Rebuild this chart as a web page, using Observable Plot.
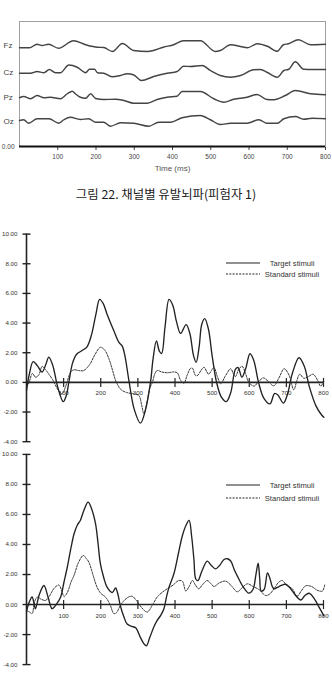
<!DOCTYPE html>
<html><head><meta charset="utf-8">
<script src="https://cdn.jsdelivr.net/npm/d3@7"></script>
<script src="https://cdn.jsdelivr.net/npm/@observablehq/plot@0.6"></script>
<style>
html,body{margin:0;padding:0;background:#fff;overflow:hidden;}
#root{position:relative;width:332px;height:680px;}
.pane{position:absolute;left:0;}
#caption{position:absolute;left:0;width:332px;top:185px;text-align:center;font-family:"Noto Sans CJK KR",sans-serif;font-size:12.4px;font-weight:400;color:#1a1a1a;line-height:19px;}
</style></head><body><div id="root">
<div id="c1" class="pane" style="top:0px"></div>
<div id="caption"></div>
<div id="c2" class="pane" style="top:225px"></div>
<div id="c3" class="pane" style="top:448px"></div>
</div>
<script>
// ---------- data ----------
const timeTicks = [100, 200, 300, 400, 500, 600, 700, 800];
const ampTicks = [-4, -2, 0, 2, 4, 6, 8, 10];
const channels = ["Fz", "Cz", "Pz", "Oz"];
const channelLevels = [4.06, 2.96, 1.96, 1.0];
const captionText = "그림 22. 채널별 유발뇌파(피험자 1)";
const axisTitle = "Time (ms)";
const legendLabels = ["Target stimuli", "Standard stimuli"];

// top panel: evoked traces per channel [ms, level]
const fz = [[0,3.95],[26,3.95],[46,4.09],[59,4.04],[76,4.09],[102,3.93],[141,4.23],[173,4.07],[204,3.97],[220,3.96],[243,3.80],[269,4.12],[298,3.84],[335,3.80],[350,3.84],[376,3.97],[403,4.07],[429,4.23],[473,4.23],[512,3.80],[525,3.84],[552,4.07],[578,4.00],[596,3.95],[622,4.11],[648,4.01],[674,3.81],[690,4.07],[703,4.11],[729,4.27],[761,4.07],[800,4.09]];
const cz = [[0,2.93],[29,2.93],[46,3.00],[64,2.95],[78,3.08],[94,2.95],[107,2.95],[129,3.26],[151,3.17],[173,2.95],[183,3.09],[196,3.09],[204,2.95],[220,2.93],[242,2.79],[264,2.84],[282,2.91],[299,2.86],[319,2.64],[351,2.80],[386,2.93],[412,3.00],[429,3.21],[447,3.20],[478,3.24],[499,3.04],[525,2.84],[552,2.77],[578,2.84],[612,3.07],[630,3.08],[647,2.97],[674,2.77],[691,3.04],[704,3.09],[721,3.39],[743,3.09],[769,3.08],[800,3.08]];
const pz = [[0,1.95],[11,2.00],[29,1.91],[46,2.04],[64,1.95],[81,1.97],[107,1.91],[125,2.11],[138,2.21],[146,2.11],[159,1.97],[173,1.93],[186,2.11],[199,1.92],[220,1.88],[251,1.89],[273,1.84],[299,1.73],[334,1.73],[360,1.88],[386,1.97],[412,2.01],[425,2.20],[473,2.20],[508,1.91],[534,1.77],[560,1.89],[595,1.97],[621,2.08],[647,1.88],[665,1.87],[695,2.04],[721,2.24],[761,2.11],[800,2.07]];
const oz = [[0,1.04],[11,1.07],[24,0.93],[46,1.11],[77,1.11],[103,0.93],[116,1.07],[133,1.17],[159,1.08],[181,1.11],[199,0.97],[220,0.97],[238,0.81],[264,0.95],[299,0.93],[338,0.81],[364,0.97],[395,0.97],[425,1.15],[473,1.24],[499,1.07],[525,0.88],[552,0.93],[595,0.93],[626,1.07],[647,0.93],[674,0.93],[691,1.11],[721,1.20],[743,1.09],[765,1.13],[800,1.11]];

// middle panel [ms, uV]
const target2 = [[0,-0.55],[8,0.6],[18,1.4],[30,1.1],[42,0.7],[52,1.2],[60,1.7],[70,1.2],[85,-0.4],[99,-1.3],[107,-0.9],[114,0],[124,1.3],[135,1.9],[150,2.15],[163,2.4],[175,3.2],[187,4.6],[197,5.6],[207,5.3],[217,4.6],[235,3.5],[249,2.7],[258,2.45],[265,1.8],[276,0.1],[290,-1.8],[307,-2.75],[320,-1.9],[334,0],[341,1.6],[350,2.8],[358,2.1],[364,1.95],[373,3.7],[384,5.6],[394,5.2],[404,4.1],[415,3.3],[430,3.9],[440,3.3],[450,1.8],[457,1.35],[465,2.4],[472,3.9],[480,4.3],[490,3.6],[500,1.8],[512,0],[525,-1.0],[538,-1.3],[550,-0.7],[563,0.9],[570,1.0],[580,0.35],[590,0.9],[602,1.93],[612,1.5],[625,0],[640,-1.1],[656,-1.45],[668,-0.75],[677,-0.85],[692,-1.4],[703,-0.8],[716,0.6],[734,1.66],[748,1.1],[762,-0.3],[780,-1.6],[795,-2.2],[801,-2.35]];
const standard2 = [[0,-0.32],[8,0.1],[16,0.6],[24,0.35],[33,0.5],[42,1.07],[50,0.9],[56,0.7],[70,0.2],[85,-0.5],[96,-0.77],[105,-0.3],[119,0.69],[128,0.85],[140,0.8],[154,0.8],[170,1.2],[185,1.9],[199,2.37],[210,2.2],[222,1.59],[232,0.8],[240,0.13],[250,-0.35],[258,-0.55],[272,-0.7],[289,-0.77],[303,-0.9],[310,-1.5],[316,-2.1],[324,-1.4],[332,-0.4],[339,0],[346,0.6],[352,0.8],[365,0.7],[380,0.65],[395,0.7],[406,0.65],[415,0.15],[424,-0.05],[433,0.5],[442,0.95],[447,0.95],[455,0.47],[460,0.45],[470,0.8],[478,1.02],[486,0.7],[491,0.55],[498,0.8],[505,1.0],[514,0.4],[523,-0.09],[535,0.4],[550,0.92],[557,0.6],[563,0.4],[572,0.9],[581,1.08],[590,0.6],[599,0],[613,-0.25],[625,0.05],[638,0.3],[650,0.1],[666,-0.23],[680,0.3],[694,0.92],[707,0.5],[720,-0.5],[728,0.1],[736,0.55],[747,0.28],[760,0.4],[772,0.55],[785,0.1],[792,-0.25],[801,0.05]];

// bottom panel [ms, uV]
const target3 = [[0,-0.45],[8,0.2],[15,0.5],[20,0.1],[24,-0.28],[35,0.7],[47,1.27],[58,0.5],[69,-0.28],[80,0.0],[92,0.5],[101,1.5],[110,2.5],[120,3.8],[128,4.7],[137,5.3],[145,5.6],[155,6.3],[166,6.82],[175,6.4],[186,5.38],[193,4.0],[199,2.72],[208,1.8],[217,1.16],[231,0.8],[240,1.1],[246,0.7],[253,-0.1],[262,-0.8],[271,-1.3],[283,-1.45],[294,-1.55],[307,-2.2],[316,-2.6],[323,-2.75],[332,-2.2],[343,-1.5],[352,-1.06],[362,-0.7],[370,-0.3],[377,0.5],[384,1.16],[397,2.05],[410,3.5],[420,4.6],[430,5.3],[438,5.6],[445,4.5],[451,3.0],[456,1.7],[462,1.6],[472,2.2],[487,2.89],[498,2.6],[509,2.38],[520,2.6],[532,3.0],[541,3.05],[550,2.9],[560,2.3],[570,1.8],[583,1.2],[599,0.76],[610,1.0],[618,2.0],[624,2.75],[628,1.8],[632,0.9],[640,1.0],[649,2.1],[655,1.8],[662,1.2],[667,1.05],[680,1.2],[698,1.35],[710,1.1],[725,0.6],[739,0.3],[750,0.6],[761,0.75],[775,0.4],[788,-0.17],[801,-0.75]];
const standard3 = [[0,-0.39],[8,-0.5],[15,-0.6],[22,0.2],[29,0.49],[40,0.35],[51,0.27],[60,0.5],[75,1.1],[87,1.3],[94,1.0],[101,0.54],[110,0.8],[120,1.5],[128,1.94],[140,2.8],[153,3.27],[160,3.1],[168,2.82],[180,1.9],[190,1.16],[200,0.75],[213,0.49],[225,0.0],[235,-0.6],[242,-0.55],[252,-0.1],[262,0.25],[275,0.5],[285,0.55],[295,0.3],[310,-0.2],[325,-0.5],[340,0.0],[352,0.5],[365,0.8],[379,1.05],[395,1.3],[410,1.6],[420,1.55],[429,0.9],[438,1.2],[447,1.6],[455,1.3],[464,1.05],[475,1.35],[487,1.6],[498,1.35],[505,1.2],[520,1.45],[536,1.56],[550,1.3],[568,0.85],[580,1.1],[595,1.38],[610,1.2],[626,1.0],[644,0.6],[655,0.7],[668,1.1],[680,1.5],[689,1.6],[700,1.3],[716,1.05],[729,0.55],[740,0.9],[752,1.25],[768,1.2],[783,0.95],[797,0.9],[803,1.3]];

// ---------- drawing ----------
const FONT = "'Liberation Sans', Arial, sans-serif";
const channelSeries = [fz, cz, pz, oz];

const p1 = Plot.plot({
  width: 332, height: 180,
  marginLeft: 19, marginRight: 7, marginTop: 21, marginBottom: 34,
  style: {background: "transparent", fontFamily: FONT, fontSize: "6.5px", color: "#444"},
  x: {domain: [0, 800], ticks: timeTicks, tickSize: 4, tickPadding: 4, label: null},
  y: {domain: [0, 5], axis: null},
  marks: [
    Plot.frame({stroke: "#a0a0a0", strokeWidth: 1}),
    ...channelSeries.map(s => Plot.line(s, {x: d => d[0], y: d => d[1], curve: "monotone-x", stroke: "#444", strokeWidth: 1.4})),
    Plot.ruleY([0], {stroke: "#111", strokeWidth: 2}),
    Plot.text(channels, {x: () => 0, y: (d, i) => channelLevels[i], text: d => d, textAnchor: "start", dx: -16, fontSize: 8, fill: "#444"}),
    Plot.text(["0.00"], {x: () => 0, y: () => 0, text: d => d, textAnchor: "end", dx: -5, fontSize: 6.5, fill: "#444"}),
    Plot.text([axisTitle], {frameAnchor: "bottom", dy: 24, text: d => d, fontSize: 8, fill: "#555"})
  ]
});
document.getElementById("c1").appendChild(p1);
document.getElementById("caption").textContent = captionText;

const vTick = {draw(ctx, size) { const r = Math.sqrt(size / Math.PI); ctx.moveTo(0, -r); ctx.lineTo(0, r); }};
const hTick = {draw(ctx, size) { const r = Math.sqrt(size / Math.PI); ctx.moveTo(-r, 0); ctx.lineTo(r, 0); }};

function ampChart(target, standard, height, mt, mb, legendY) {
  const svg = Plot.plot({
    width: 332, height, marginLeft: 26, marginRight: 9, marginTop: mt, marginBottom: mb,
    style: {background: "transparent", fontFamily: FONT, fontSize: "6.2px", color: "#333", overflow: "visible"},
    x: {domain: [0, 800], axis: null},
    y: {domain: [-4, 10], axis: null},
    marks: [
      Plot.ruleX([0], {stroke: "#222", strokeWidth: 1.6}),
      Plot.ruleY([0], {stroke: "#222", strokeWidth: 1.6}),
      Plot.dot(ampTicks, {x: () => 0, y: d => d, symbol: hTick, r: 4, fill: "none", stroke: "#222", strokeWidth: 1.4}),
      Plot.dot(timeTicks, {x: d => d, y: () => 0, symbol: vTick, r: 4.5, fill: "none", stroke: "#222", strokeWidth: 1.2}),
      Plot.text(ampTicks, {x: () => 0, y: d => d, text: d => d.toFixed(2), textAnchor: "end", dx: -9, fill: "#333"}),
      Plot.text(timeTicks, {x: d => d, y: () => 0, text: d => String(d), dy: 11, fill: "#333"}),
      Plot.line(standard, {x: d => d[0], y: d => d[1], curve: "catmull-rom", stroke: "#333", strokeWidth: 1, strokeDasharray: "2,1.3"}),
      Plot.line(target, {x: d => d[0], y: d => d[1], curve: "catmull-rom", stroke: "#222", strokeWidth: 1.35})
    ]
  });
  const g = d3.select(svg).append("g").attr("font-family", FONT).attr("font-size", 7.6).attr("fill", "#333");
  const rows = [{dash: null, w: 1.2}, {dash: "2,1.3", w: 1}];
  rows.forEach((r, i) => {
    const y = legendY[i];
    const ln = g.append("line").attr("x1", 226).attr("x2", 260).attr("y1", y).attr("y2", y)
      .attr("stroke", "#222").attr("stroke-width", r.w);
    if (r.dash) ln.attr("stroke-dasharray", r.dash);
    g.append("text").attr("x", 292).attr("y", y).attr("dy", "0.35em").attr("text-anchor", "middle").text(legendLabels[i]);
  });
  return svg;
}

document.getElementById("c2").appendChild(ampChart(target2, standard2, 230, 8.6, 13.8, [38, 49]));
document.getElementById("c3").appendChild(ampChart(target3, standard3, 232, 5.9, 15.9, [37, 50]));
</script>
</body></html>
